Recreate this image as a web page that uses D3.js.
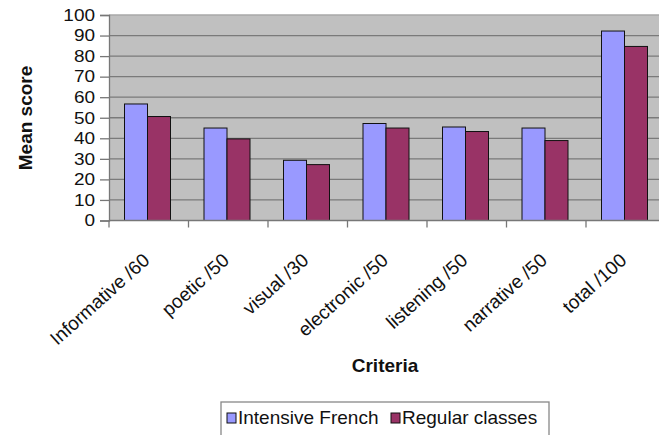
<!DOCTYPE html>
<html>
<head>
<meta charset="utf-8">
<script src="https://cdn.jsdelivr.net/npm/d3@7"></script>
<style>
  html, body { margin: 0; padding: 0; background: #fff; }
  svg { display: block; font-family: "Liberation Sans", Arial, sans-serif; }
</style>
</head>
<body>
<svg id="chart" width="659" height="435"></svg>
<script>
// chart data
var categories = ["Informative /60", "poetic /50", "visual /30", "electronic /50", "listening /50", "narrative /50", "total /100"];
var seriesNames = ["Intensive French", "Regular classes"];
var intensiveFrench = [56.7, 45.0, 29.3, 47.2, 45.5, 45.0, 92.2];
var regularClasses = [50.6, 39.7, 27.2, 45.0, 43.3, 38.9, 84.7];
var yTicks = [0, 10, 20, 30, 40, 50, 60, 70, 80, 90, 100];
var colors = ["#9999ff", "#993366"];

var rows = categories.map(function(c, i) {
  return { cat: c, values: [intensiveFrench[i], regularClasses[i]] };
});

var svg = d3.select("#chart");

// scales
var x0 = d3.scaleBand().domain(categories).range([109, 665.5]).padding(0);
var x1 = d3.scaleBand().domain(seriesNames).range([15.5, 61.5]).padding(0);
var y = d3.scaleLinear().domain([0, 100]).range([220.5, 15]);

// plot background
svg.append("rect")
   .attr("x", x0.range()[0])
   .attr("y", y(100))
   .attr("width", x0.range()[1] - x0.range()[0])
   .attr("height", y(0) - y(100))
   .attr("fill", "#c0c0c0");

// gridlines
svg.append("g")
   .selectAll("line")
   .data(yTicks.filter(function(d) { return d > 0; }))
   .enter().append("line")
   .attr("x1", x0.range()[0])
   .attr("x2", x0.range()[1])
   .attr("y1", function(d) { return y(d); })
   .attr("y2", function(d) { return y(d); })
   .attr("stroke", function(d) { return d == 100 ? "#a8a8a8" : "#7a7a7a"; })
   .attr("stroke-width", 1.3);

// bars
var groups = svg.append("g")
   .selectAll("g")
   .data(rows)
   .enter().append("g")
   .attr("transform", function(d) { return "translate(" + x0(d.cat) + ",0)"; });

groups.selectAll("rect")
   .data(function(d) { return d.values.map(function(v, i) { return { name: seriesNames[i], value: v, i: i }; }); })
   .enter().append("rect")
   .attr("x", function(d) { return x1(d.name); })
   .attr("y", function(d) { return y(d.value); })
   .attr("width", x1.bandwidth())
   .attr("height", function(d) { return y(0) - y(d.value); })
   .attr("fill", function(d) { return colors[d.i]; })
   .attr("stroke", "#111")
   .attr("stroke-width", 1);

// y axis
var yAxis = svg.append("g")
   .attr("transform", "translate(109,0)")
   .call(d3.axisLeft(y).tickValues(yTicks).tickSize(9).tickPadding(5));
yAxis.select(".domain").attr("stroke", "#777").attr("stroke-width", 1.3);
yAxis.selectAll(".tick line").attr("stroke", "#777").attr("stroke-width", 1.3);
// labels in the reference are a bit wider than tall
yAxis.selectAll(".tick text")
   .attr("font-size", 16.5)
   .attr("font-family", "Liberation Sans, Arial, sans-serif")
   .attr("fill", "#111")
   .attr("x", -14 / 1.15)
   .attr("transform", "scale(1.15,1)");

// x axis: ticks at band boundaries
var xAxisG = svg.append("g");
xAxisG.append("line")
   .attr("x1", x0.range()[0]).attr("x2", x0.range()[1])
   .attr("y1", y(0)).attr("y2", y(0))
   .attr("stroke", "#777").attr("stroke-width", 1.3);
xAxisG.selectAll(".btick")
   .data(categories)
   .enter().append("line")
   .attr("x1", function(d) { return x0(d); })
   .attr("x2", function(d) { return x0(d); })
   .attr("y1", y(0))
   .attr("y2", y(0) + 7)
   .attr("stroke", "#777").attr("stroke-width", 1.3);

xAxisG.selectAll(".xlabel")
   .data(categories)
   .enter().append("text")
   .attr("transform", function(d) {
     return "translate(" + (x0(d) + x0.bandwidth() / 2 + 2) + "," + 262 + ") rotate(-42)";
   })
   .attr("text-anchor", "end")
   .attr("font-size", 19)
   .attr("fill", "#111")
   .text(function(d) { return d; });

// axis titles
svg.append("text")
   .attr("transform", "translate(32,118) rotate(-90)")
   .attr("text-anchor", "middle")
   .attr("font-size", 19)
   .attr("font-weight", "bold")
   .attr("fill", "#111")
   .text("Mean score");

svg.append("text")
   .attr("x", 385)
   .attr("y", 372)
   .attr("text-anchor", "middle")
   .attr("font-size", 19)
   .attr("font-weight", "bold")
   .attr("fill", "#111")
   .text("Criteria");

// legend
var legend = svg.append("g");
legend.append("rect")
   .attr("x", 221).attr("y", 402)
   .attr("width", 328).attr("height", 40)
   .attr("fill", "#fff")
   .attr("stroke", "#888").attr("stroke-width", 1.3);

var legendX = [227, 391];
var items = legend.selectAll(".item")
   .data(seriesNames)
   .enter().append("g")
   .attr("transform", function(d, i) { return "translate(" + legendX[i] + ",0)"; });
items.append("rect")
   .attr("x", 0).attr("y", 413)
   .attr("width", 9).attr("height", 10)
   .attr("fill", function(d, i) { return colors[i]; })
   .attr("stroke", "#111").attr("stroke-width", 1);
items.append("text")
   .attr("x", 11).attr("y", 424)
   .attr("font-size", 19)
   .attr("fill", "#111")
   .text(function(d) { return d; });
</script>
</body>
</html>
